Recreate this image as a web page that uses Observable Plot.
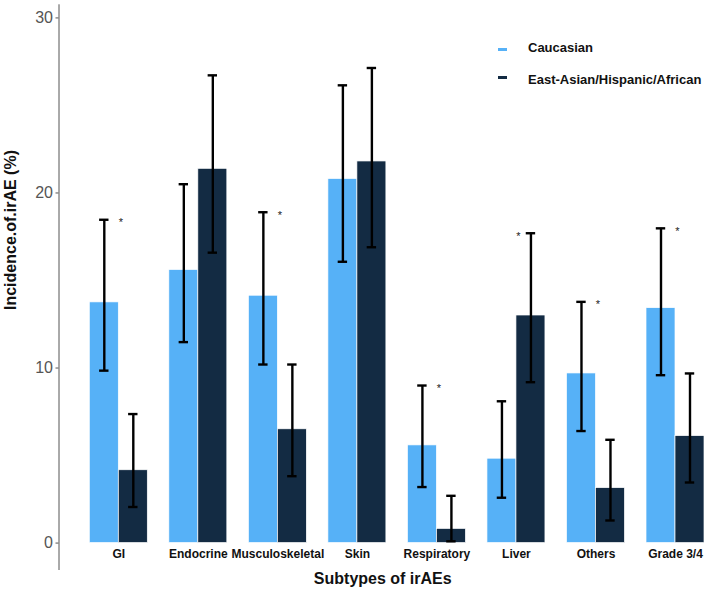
<!DOCTYPE html>
<html>
<head>
<meta charset="utf-8">
<script src="https://cdn.jsdelivr.net/npm/d3@7"></script>
<script src="https://cdn.jsdelivr.net/npm/@observablehq/plot@0.6"></script>
<style>
  html, body { margin: 0; padding: 0; background: #fff; }
  #wrap { position: relative; width: 711px; height: 589px; font-family: "Liberation Sans", Arial, sans-serif; }
  .legend { position: absolute; left: 0; top: 0; }
  .key { position: absolute; width: 9px; height: 3px; }
  .lab { position: absolute; font-size: 13px; font-weight: bold; color: #111; line-height: 16px; white-space: nowrap; }
  .ytitle { position: absolute; left: 11px; top: 230px; font-size: 16px; font-weight: bold; color: #111; white-space: nowrap;
            transform: translate(-50%, -50%) rotate(-90deg); line-height: 18px; }
</style>
</head>
<body>
<div id="wrap"></div>
<script>
const categories = ["GI", "Endocrine", "Musculoskeletal", "Skin", "Respiratory", "Liver", "Others", "Grade 3/4"];
const groups = ["Caucasian", "East-Asian/Hispanic/African"];
const colors = ["#56B1F7", "#132B43"];
const caucasian   = [13.75, 15.6, 14.13, 20.8, 5.58, 4.82, 9.69, 13.42];
const caucasianLo = [9.85, 11.48, 10.2, 16.07, 3.2, 2.59, 6.4, 9.59];
const caucasianHi = [18.47, 20.5, 18.9, 26.15, 9.0, 8.1, 13.78, 17.98];
const otherRace   = [4.16, 21.38, 6.5, 21.8, 0.81, 13.0, 3.14, 6.11];
const otherRaceLo = [2.06, 16.59, 3.82, 16.9, 0.1, 9.19, 1.29, 3.46];
const otherRaceHi = [7.37, 26.72, 10.2, 27.14, 2.7, 17.7, 5.9, 9.69];
const significant = [true, false, true, false, true, true, true, true];
const yTicks = [0, 10, 20, 30];
const xTitle = "Subtypes of irAEs";
const yTitle = "Incidence.of.irAE (%)";

const light = categories.map((c, i) => ({cat: c, group: groups[0], v: caucasian[i], lo: caucasianLo[i], hi: caucasianHi[i]}));
const dark = categories.map((c, i) => ({cat: c, group: groups[1], v: otherRace[i], lo: otherRaceLo[i], hi: otherRaceHi[i]}));
const stars = categories.map((c, i) => ({cat: c, y: Math.max(caucasianHi[i], otherRaceHi[i]), s: significant[i]})).filter(d => d.s);

const half = 14.5; // half of band
const capHalf = 4.7;
const band = 58;

const chart = Plot.plot({
  width: 711,
  height: 589,
  marginLeft: 58.5,
  marginRight: 5,
  marginTop: 4.3,
  marginBottom: 20,
  style: {fontFamily: "'Liberation Sans', Arial, sans-serif", background: "#fff", overflow: "visible"},
  x: {domain: categories, range: [89.3, 704], paddingInner: 0.2707, paddingOuter: 0, round: false, label: null},
  y: {domain: [-1.51, 30.75], label: null},
  color: {domain: groups, range: colors},
  marks: [
    Plot.barY(light, {x: "cat", y: "v", fill: "group", insetRight: band / 2, stroke: "white", strokeWidth: 0.7}),
    Plot.barY(dark, {x: "cat", y: "v", fill: "group", insetLeft: band / 2, stroke: "white", strokeWidth: 0.7}),
    Plot.ruleX(light, {x: "cat", y1: "lo", y2: "hi", dx: -half, stroke: "black", strokeWidth: 2.4}),
    Plot.ruleX(dark, {x: "cat", y1: "lo", y2: "hi", dx: half, stroke: "black", strokeWidth: 2.4}),
    Plot.tickY(light, {x: "cat", y: "hi", insetLeft: half - capHalf, insetRight: band - half - capHalf, stroke: "black", strokeWidth: 2.4}),
    Plot.tickY(light, {x: "cat", y: "lo", insetLeft: half - capHalf, insetRight: band - half - capHalf, stroke: "black", strokeWidth: 2.4}),
    Plot.tickY(dark, {x: "cat", y: "hi", insetLeft: band - half - capHalf, insetRight: half - capHalf, stroke: "black", strokeWidth: 2.4}),
    Plot.tickY(dark, {x: "cat", y: "lo", insetLeft: band - half - capHalf, insetRight: half - capHalf, stroke: "black", strokeWidth: 2.4}),
    Plot.text(stars, {x: "cat", y: "y", text: () => "*", dx: 2, dy: 3, fontSize: 11, fill: "#222"}),
    Plot.frame({anchor: "left", stroke: "#555", strokeWidth: 1}),
    Plot.axisY({ticks: yTicks, tickSize: 3, tickPadding: 3, fontSize: 16, color: "#555", label: null}),
    Plot.axisX({anchor: "bottom", tickSize: 0, tickPadding: 0, dy: -20, fontSize: 12, fontWeight: "bold", color: "#111", label: null}),
    Plot.text([xTitle], {frameAnchor: "bottom", dy: 14, fontSize: 16, fontWeight: "bold", fill: "#111"})
  ]
});

const wrap = document.getElementById("wrap");
wrap.appendChild(chart);

const yt = document.createElement("div");
yt.className = "ytitle";
yt.textContent = yTitle;
wrap.appendChild(yt);

const legend = document.createElement("div");
legend.className = "legend";
const keyY = [49.5, 77];
const labY = [48.3, 80];
groups.forEach((g, i) => {
  const k = document.createElement("div");
  k.className = "key";
  k.style.left = "497.5px";
  k.style.top = (keyY[i] - 1.5) + "px";
  k.style.background = colors[i];
  legend.appendChild(k);
  const t = document.createElement("div");
  t.className = "lab";
  t.style.left = "528px";
  t.style.top = (labY[i] - 8) + "px";
  t.textContent = g;
  legend.appendChild(t);
});
wrap.appendChild(legend);
</script>
</body>
</html>
